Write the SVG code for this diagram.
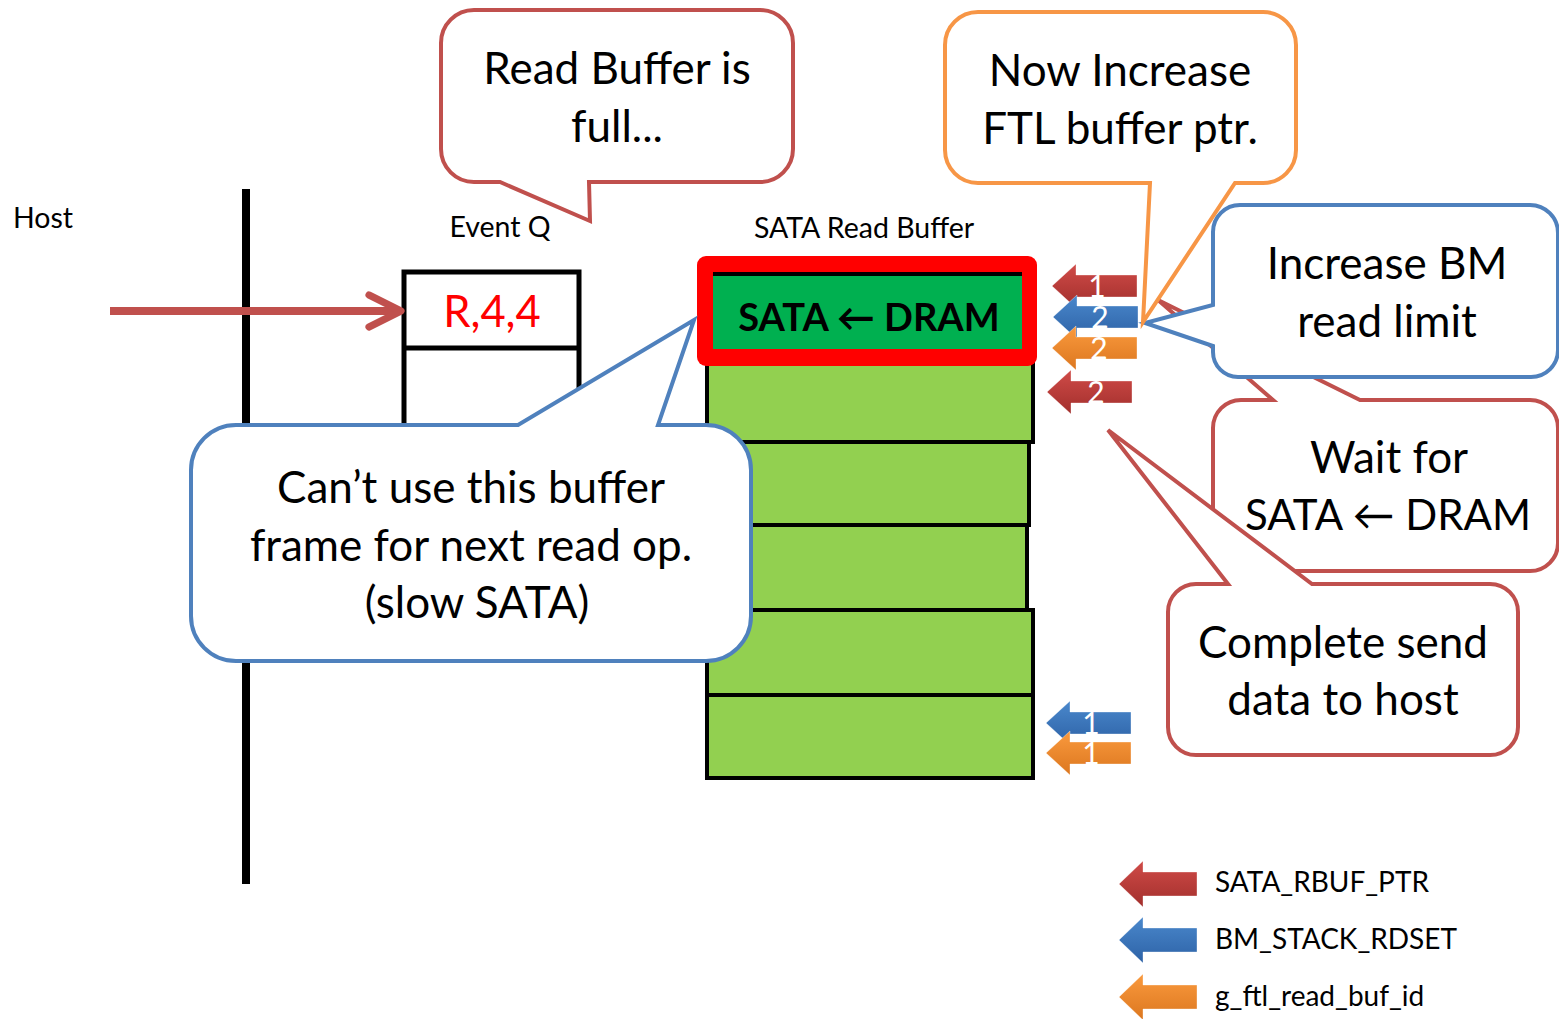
<svg xmlns="http://www.w3.org/2000/svg" width="1559" height="1019" viewBox="0 0 1559 1019">
  <style>
    text { font-family: Lato, "Open Sans", "DejaVu Sans", sans-serif; fill: #000; }
    .big { font-size: 44px; text-anchor: middle; }
    .small { font-size: 28.5px; }
    .legend { font-size: 28px; }
    .digit { font-size: 30px; fill: #fff; text-anchor: middle; }
    .call { fill: #fff; stroke-width: 4; stroke-linejoin: miter; }
    .c-red { stroke: #c0504d; }
    .c-blue { stroke: #4f81bd; }
    .c-orange { stroke: #f79646; }
    .cell { fill: #92d050; stroke: #000; stroke-width: 4; }
  </style>
  <defs>
    <linearGradient id="gRed" x1="0" y1="0" x2="0" y2="1">
      <stop offset="0" stop-color="#d04b48"/>
      <stop offset="1" stop-color="#a22f2c"/>
    </linearGradient>
    <linearGradient id="gBlue" x1="0" y1="0" x2="0" y2="1">
      <stop offset="0" stop-color="#4a88cc"/>
      <stop offset="1" stop-color="#2d62a6"/>
    </linearGradient>
    <linearGradient id="gOrange" x1="0" y1="0" x2="0" y2="1">
      <stop offset="0" stop-color="#fa9a3e"/>
      <stop offset="1" stop-color="#dc771f"/>
    </linearGradient>
    <!-- left-pointing block arrow, tip at origin -->
    <path id="blk" d="M0,0 L24,-22 L24,-11 L85,-11 L85,11 L24,11 L24,22 Z" stroke="#ffffff" stroke-opacity="0.35" stroke-width="1"/>
    <path id="blkL" d="M0,0 L24,-23 L24,-12 L78,-12 L78,12 L24,12 L24,23 Z" stroke="#ffffff" stroke-opacity="0.35" stroke-width="1"/>
    <marker id="openHead" viewBox="0 0 10 10" refX="9" refY="5" markerWidth="5" markerHeight="5" orient="auto" markerUnits="strokeWidth">
      <path d="M1,1 L9,5 L1,9" fill="none" stroke="#c0504d" stroke-width="1.8" stroke-linecap="round" stroke-linejoin="round"/>
    </marker>
  </defs>

  <!-- host timeline -->
  <g id="host">
    <text class="small" x="13" y="228">Host</text>
    <line x1="246" y1="189" x2="246" y2="884" stroke="#000" stroke-width="8"/>
  </g>

  <!-- event queue -->
  <g id="event-q">
    <text class="small" x="500" y="237" text-anchor="middle">Event Q</text>
    <rect x="404" y="272" width="175" height="200" fill="#fff" stroke="#000" stroke-width="5"/>
    <line x1="404" y1="348" x2="579" y2="348" stroke="#000" stroke-width="5"/>
    <text x="492" y="327" font-size="43.5" text-anchor="middle" style="fill:#ff0000">R,4,4</text>
  </g>

  <!-- SATA read buffer frames -->
  <g id="read-buffer">
    <text class="small" x="864" y="238" text-anchor="middle">SATA Read Buffer</text>
    <rect class="cell" x="707" y="695" width="326" height="83"/>
    <rect class="cell" x="707" y="610" width="326" height="85"/>
    <rect class="cell" x="707" y="525" width="320" height="85"/>
    <rect class="cell" x="707" y="442" width="322" height="83"/>
    <rect class="cell" x="707" y="362" width="326" height="80"/>
    <rect x="697" y="256" width="340" height="110" rx="9" fill="#ff0000"/>
    <rect x="713" y="274" width="309" height="75" fill="#00b050"/>
    <line x1="713" y1="274" x2="1022" y2="274" stroke="#000" stroke-width="4"/>
    <text x="869" y="331" font-size="38" font-weight="bold" text-anchor="middle">SATA ← DRAM</text>
  </g>

  <!-- pointer markers -->
  <g id="pointers">
    <use href="#blk" x="1052" y="286" fill="url(#gRed)"/>
    <text class="digit" x="1097" y="297">1</text>
    <use href="#blk" x="1053" y="317" fill="url(#gBlue)"/>
    <text class="digit" x="1100" y="328">2</text>
    <use href="#blk" x="1052" y="348" fill="url(#gOrange)"/>
    <text class="digit" x="1099" y="359">2</text>
    <use href="#blk" x="1047" y="392" fill="url(#gRed)"/>
    <text class="digit" x="1096" y="403">2</text>
    <use href="#blk" x="1046" y="723" fill="url(#gBlue)"/>
    <text class="digit" x="1091" y="734">1</text>
    <use href="#blk" x="1046" y="753" fill="url(#gOrange)"/>
    <text class="digit" x="1091" y="764">1</text>
  </g>

  <!-- connectors -->
  <g id="connectors">
    <line x1="110" y1="311" x2="401" y2="311" stroke="#c0504d" stroke-width="8" marker-end="url(#openHead)"/>
  </g>

  <!-- callouts -->
  <g id="callout-full">
    <path class="call c-red" d="M474,10 H760 A33,33 0 0 1 793,43 V149 A33,33 0 0 1 760,182 H589 L590,221 L500,182 H474 A33,33 0 0 1 441,149 V43 A33,33 0 0 1 474,10 Z"/>
    <text class="big" x="617" y="84">Read Buffer is</text>
    <text class="big" x="617" y="142">full...</text>
  </g>

  <g id="callout-cant-use">
    <path class="call c-blue" d="M236,425 H518 L694,320 L658,425 H706 A45,45 0 0 1 751,470 V616 A45,45 0 0 1 706,661 H236 A45,45 0 0 1 191,616 V470 A45,45 0 0 1 236,425 Z"/>
    <text class="big" x="471" y="503">Can’t use this buffer</text>
    <text class="big" x="471" y="561">frame for next read op.</text>
    <text class="big" x="477" y="618">(slow SATA)</text>
  </g>

  <g id="callout-wait">
    <path class="call c-red" d="M1241,400 H1273 L1158,300 L1360,400 H1530 A28,28 0 0 1 1558,428 V543 A28,28 0 0 1 1530,571 H1241 A28,28 0 0 1 1213,543 V428 A28,28 0 0 1 1241,400 Z"/>
    <text class="big" x="1389" y="473">Wait for</text>
    <text class="big" x="1388" y="530" style="font-size:42px">SATA ← DRAM</text>
  </g>

  <g id="callout-complete">
    <path class="call c-red" d="M1196,584 H1228 L1108,430 L1312,584 H1490 A28,28 0 0 1 1518,612 V727 A28,28 0 0 1 1490,755 H1196 A28,28 0 0 1 1168,727 V612 A28,28 0 0 1 1196,584 Z"/>
    <text class="big" x="1343" y="658">Complete send</text>
    <text class="big" x="1343" y="715">data to host</text>
  </g>

  <g id="callout-bm">
    <path class="call c-blue" d="M1240,205 H1530 A28,28 0 0 1 1558,233 V350 A27,27 0 0 1 1531,377 H1238 A25,25 0 0 1 1213,352 V346 L1145,323 L1213,305 V232 A27,27 0 0 1 1240,205 Z"/>
    <text class="big" x="1387" y="279">Increase BM</text>
    <text class="big" x="1387" y="337">read limit</text>
  </g>

  <g id="callout-ftl">
    <path class="call c-orange" d="M978,12 H1263 A33,33 0 0 1 1296,45 V150 A33,33 0 0 1 1263,183 H1235 L1143,322 L1150,183 H978 A33,33 0 0 1 945,150 V45 A33,33 0 0 1 978,12 Z"/>
    <text class="big" x="1120" y="86">Now Increase</text>
    <text class="big" x="1120" y="144">FTL buffer ptr.</text>
  </g>

  <!-- legend -->
  <g id="legend">
    <use href="#blkL" x="1119" y="884" fill="url(#gRed)"/>
    <text class="legend" x="1215" y="892">SATA_RBUF_PTR</text>
    <use href="#blkL" x="1119" y="940" fill="url(#gBlue)"/>
    <text class="legend" x="1215" y="949">BM_STACK_RDSET</text>
    <use href="#blkL" x="1119" y="997" fill="url(#gOrange)"/>
    <text class="legend" x="1215" y="1006">g_ftl_read_buf_id</text>
  </g>
</svg>
